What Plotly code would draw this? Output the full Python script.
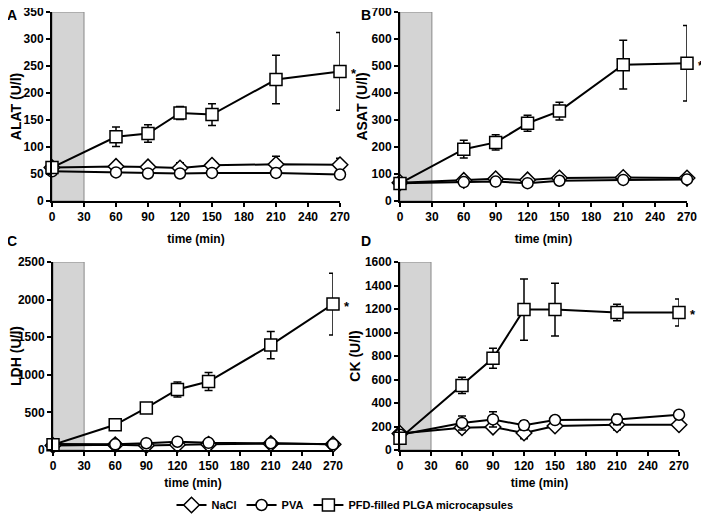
import plotly.graph_objects as go

time = [0, 60, 90, 120, 150, 210, 270]
series_names = ["NaCl", "PVA", "PFD-filled PLGA microcapsules"]

alat_nacl = [62, 64, 63, 61, 66, 68, 67]
alat_nacl_err = [4, 5, 5, 10, 4, 15, 12]
alat_pva = [55, 53, 51, 51, 52, 52, 49]
alat_pva_err = [3, 3, 3, 3, 3, 8, 3]
alat_pfd = [62, 119, 125, 163, 160, 225, 240]
alat_pfd_err = [4, 18, 16, 12, 20, 45, 72]

asat_nacl = [68, 76, 82, 78, 85, 87, 85]
asat_nacl_err = [5, 6, 6, 6, 6, 6, 6]
asat_pva = [66, 70, 72, 66, 75, 78, 80]
asat_pva_err = [5, 5, 5, 5, 5, 10, 5]
asat_pfd = [65, 192, 217, 288, 333, 505, 510]
asat_pfd_err = [5, 33, 28, 30, 33, 90, 140]

ldh_nacl = [60, 70, 60, 70, 75, 85, 75]
ldh_nacl_err = [10, 10, 10, 10, 10, 10, 10]
ldh_pva = [80, 75, 90, 110, 95, 90, 75]
ldh_pva_err = [10, 10, 15, 20, 15, 10, 10]
ldh_pfd = [70, 335, 560, 805, 910, 1395, 1940]
ldh_pfd_err = [10, 20, 60, 100, 120, 180, 410]

ck_nacl = [140, 190, 195, 145, 205, 215, 215]
ck_nacl_err = [20, 40, 30, 50, 20, 45, 20]
ck_pva = [130, 230, 260, 210, 255, 260, 300]
ck_pva_err = [20, 60, 65, 40, 20, 45, 20]
ck_pfd = [100, 550, 780, 1195, 1195, 1170, 1170]
ck_pfd_err = [40, 70, 85, 260, 225, 70, 115]

panels = [
    ("A", "ALAT (U/l)", 350, 50, [alat_nacl, alat_pva, alat_pfd], [alat_nacl_err, alat_pva_err, alat_pfd_err]),
    ("B", "ASAT (U/l)", 700, 100, [asat_nacl, asat_pva, asat_pfd], [asat_nacl_err, asat_pva_err, asat_pfd_err]),
    ("C", "LDH (U/l)", 2500, 500, [ldh_nacl, ldh_pva, ldh_pfd], [ldh_nacl_err, ldh_pva_err, ldh_pfd_err]),
    ("D", "CK (U/l)", 1600, 200, [ck_nacl, ck_pva, ck_pfd], [ck_nacl_err, ck_pva_err, ck_pfd_err]),
]

OFF = 8  # page body margin
W, H = 709 - OFF, 517 - OFF
boxes = [  # left, right, top, bottom in page px
    (52, 340, 12, 201),
    (400, 687, 12, 201),
    (53, 333, 262, 450),
    (400, 679, 262, 450),
]
label_pos = [(5, 15), (359, 15), (5, 241), (359, 241)]

def px(x):
    return (x - OFF) / W

def py(y):
    return 1 - (y - OFF) / H

symbols = ["diamond", "circle", "square"]
sizes = [12, 11, 12]
font = "Liberation Sans, Arial, sans-serif"

fig = go.Figure()
layout = dict(
    width=W, height=H, margin=dict(l=0, r=0, t=0, b=0, autoexpand=False),
    plot_bgcolor="white", paper_bgcolor="white",
    font=dict(family=font, color="black"),
    showlegend=True,
    legend=dict(orientation="h", xref="container", yref="container", x=px(345), xanchor="center",
                y=py(505), yanchor="middle",
                font=dict(size=11, family=font, weight="bold"),
                bgcolor="rgba(0,0,0,0)"),
    shapes=[], annotations=[],
)

for i, (lab, ytitle, ymax, dtick, vals, errs) in enumerate(panels):
    l, r, t, b = boxes[i]
    xa = "xaxis" if i == 0 else f"xaxis{i+1}"
    ya = "yaxis" if i == 0 else f"yaxis{i+1}"
    xref = "x" if i == 0 else f"x{i+1}"
    yref = "y" if i == 0 else f"y{i+1}"
    layout[xa] = dict(domain=[px(l), px(r)], anchor=yref, range=[0, 270], tick0=0, dtick=30,
                      automargin=False, ticklabeloverflow="allow",
                      showgrid=False, zeroline=False, showline=True, linecolor="black", linewidth=2,
                      ticks="outside", ticklen=4, tickwidth=2, tickcolor="black",
                      tickfont=dict(size=12, family=font, weight="bold"),
                      title=dict(text="time (min)", font=dict(size=12, family=font, weight="bold"), standoff=11))
    layout[ya] = dict(domain=[py(b), py(t)], anchor=xref, range=[0, ymax], tick0=0, dtick=dtick,
                      automargin=False, ticklabeloverflow="allow",
                      showgrid=False, zeroline=False, showline=True, linecolor="black", linewidth=2,
                      ticks="outside", ticklen=4, tickwidth=2, tickcolor="black",
                      tickfont=dict(size=12, family=font, weight="bold"),
                      title=dict(text=ytitle, font=dict(size=14, family=font, weight="bold"), standoff=1))
    layout["shapes"].append(dict(type="rect", xref=xref, yref=yref, x0=0, x1=30, y0=0, y1=ymax,
                                 fillcolor="#d4d4d4", line=dict(color="#888888", width=1), layer="below"))
    layout["annotations"].append(dict(text=lab, x=px(label_pos[i][0]), y=py(label_pos[i][1]),
                                      xref="paper", yref="paper", xanchor="left", yanchor="middle",
                                      showarrow=False, font=dict(size=14, family=font, weight="bold")))
    layout["annotations"].append(dict(text="*", x=270, y=vals[2][-1], xref=xref, yref=yref,
                                      xanchor="center", yanchor="middle", xshift=14, yshift=-2, showarrow=False,
                                      font=dict(size=13, family=font, weight="bold")))
    for s in range(3):
        fig.add_trace(go.Scatter(
            x=time, y=vals[s], name=series_names[s], xaxis=xref, yaxis=yref,
            mode="lines+markers", cliponaxis=False,
            line=dict(color="black", width=2),
            marker=dict(symbol=symbols[s], size=sizes[s], color="white", line=dict(color="black", width=1.5)),
            error_y=dict(type="data", array=errs[s], visible=True, color="black", thickness=1.5, width=4),
            showlegend=(i == 0),
        ))

fig.update_layout(**layout)
fig.write_html("out.html")
